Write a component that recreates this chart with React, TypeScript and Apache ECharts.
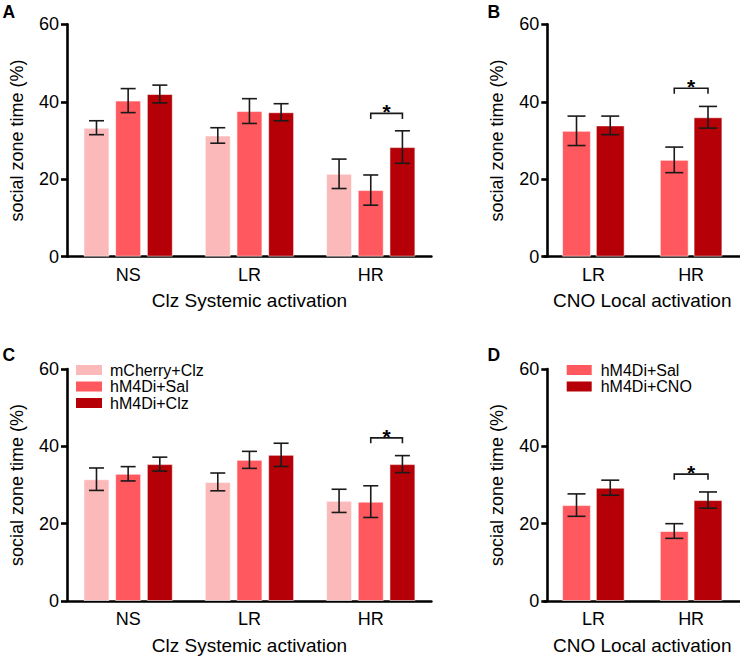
import React, { useEffect, useRef } from "react";
import * as echarts from "echarts";

const clzGroups = ["NS", "LR", "HR"];
const cnoGroups = ["LR", "HR"];
const clzNames = ["mCherry+Clz", "hM4Di+Sal", "hM4Di+Clz"];
const cnoNames = ["hM4Di+Sal", "hM4Di+CNO"];
const clzColors = ["#FCB9B9", "#FF585E", "#B40006"];
const cnoColors = ["#FF585E", "#B40006"];
const yTicks = [0, 20, 40, 60];

// Panel A: Clz systemic activation (top)
const aMCherryClz = [33.3, 31.3, 21.4];
const aMCherryClzSem = [1.8, 2.0, 3.8];
const aHM4DiSal = [40.3, 37.6, 17.2];
const aHM4DiSalSem = [3.1, 3.2, 3.9];
const aHM4DiClz = [42.0, 37.3, 28.3];
const aHM4DiClzSem = [2.3, 2.2, 4.2];
const aSig = { category: 2, from: 1, to: 2, y: 37.0, label: "*" };

// Panel B: CNO local activation (top)
const bHM4DiSal = [32.5, 25.0];
const bHM4DiSalSem = [3.8, 3.3];
const bHM4DiCNO = [33.9, 36.0];
const bHM4DiCNOSem = [2.4, 2.8];
const bSig = { category: 1, from: 0, to: 1, y: 43.5, label: "*" };

// Panel C: Clz systemic activation (bottom)
const cMCherryClz = [31.5, 30.8, 25.9];
const cMCherryClzSem = [2.9, 2.3, 3.0];
const cHM4DiSal = [32.9, 36.5, 25.7];
const cHM4DiSalSem = [1.85, 2.2, 4.1];
const cHM4DiClz = [35.4, 37.8, 35.4];
const cHM4DiClzSem = [1.8, 3.0, 2.2];
const cSig = { category: 2, from: 1, to: 2, y: 42.2, label: "*" };

// Panel D: CNO local activation (bottom)
const dHM4DiSal = [24.8, 18.1];
const dHM4DiSalSem = [2.9, 1.9];
const dHM4DiCNO = [29.3, 26.1];
const dHM4DiCNOSem = [1.95, 2.1];
const dSig = { category: 1, from: 0, to: 1, y: 32.8, label: "*" };

const FONT = "'Liberation Sans', Arial, Helvetica, sans-serif";
const INK = "#000";
const ERR = "#1a1a1a";

type Panel = {
  letter: string;
  grid: { left: number; top: number; width: number; height: number };
  yOffset: number;
  title: string;
  cats: string[];
  names: string[];
  colors: string[];
  means: number[][];
  sems: number[][];
  sig: { category: number; from: number; to: number; y: number; label: string };
  widthRatio: number;
  gapRatio: number;
  capW: number;
};

const panels: Panel[] = [
  {
    letter: "A",
    grid: { left: 53.8, top: 24.3, width: 377.6, height: 232.4 },
    yOffset: 0.5,
    title: "Clz Systemic activation",
    cats: clzGroups,
    names: clzNames,
    colors: clzColors,
    means: [aMCherryClz, aHM4DiSal, aHM4DiClz],
    sems: [aMCherryClzSem, aHM4DiSalSem, aHM4DiClzSem],
    sig: aSig,
    widthRatio: 0.214,
    gapRatio: 0.22,
    capW: 15,
  },
  {
    letter: "B",
    grid: { left: 544.5, top: 24.3, width: 196.7, height: 232.4 },
    yOffset: -2.8,
    title: "CNO Local activation",
    cats: cnoGroups,
    names: cnoNames,
    colors: cnoColors,
    means: [bHM4DiSal, bHM4DiCNO],
    sems: [bHM4DiSalSem, bHM4DiCNOSem],
    sig: bSig,
    widthRatio: 0.295,
    gapRatio: 0.17,
    capW: 18,
  },
  {
    letter: "C",
    grid: { left: 53.8, top: 369, width: 377.6, height: 232 },
    yOffset: 0.5,
    title: "Clz Systemic activation",
    cats: clzGroups,
    names: clzNames,
    colors: clzColors,
    means: [cMCherryClz, cHM4DiSal, cHM4DiClz],
    sems: [cMCherryClzSem, cHM4DiSalSem, cHM4DiClzSem],
    sig: cSig,
    widthRatio: 0.214,
    gapRatio: 0.22,
    capW: 15,
  },
  {
    letter: "D",
    grid: { left: 544.5, top: 369, width: 196.7, height: 232 },
    yOffset: -2.8,
    title: "CNO Local activation",
    cats: cnoGroups,
    names: cnoNames,
    colors: cnoColors,
    means: [dHM4DiSal, dHM4DiCNO],
    sems: [dHM4DiSalSem, dHM4DiCNOSem],
    sig: dSig,
    widthRatio: 0.295,
    gapRatio: 0.17,
    capW: 18,
  },
];

function buildOption() {
  const grids: any[] = [];
  const xAxes: any[] = [];
  const yAxes: any[] = [];
  const series: any[] = [];
  const graphics: any[] = [];

  panels.forEach((p, gi) => {
    grids.push({ ...p.grid, containLabel: false });
    xAxes.push({
      type: "category",
      gridIndex: gi,
      data: p.cats,
      name: p.title,
      nameLocation: "middle",
      nameGap: 34.5,
      nameTextStyle: { fontSize: 19, color: INK, fontFamily: FONT },
      axisLine: { lineStyle: { color: INK, width: 2.6 } },
      axisTick: { alignWithLabel: true, length: 6, lineStyle: { color: INK, width: 2.6 } },
      axisLabel: { fontSize: 18, color: INK, fontFamily: FONT, margin: 9, interval: 0 },
      splitLine: { show: false },
    });
    yAxes.push({
      type: "value",
      gridIndex: gi,
      min: yTicks[0],
      max: yTicks[yTicks.length - 1],
      interval: yTicks[1] - yTicks[0],
      offset: p.yOffset,
      name: "social zone time (%)",
      nameLocation: "middle",
      nameGap: 41,
      nameTextStyle: { fontSize: 18, color: INK, fontFamily: FONT },
      axisLine: { show: true, lineStyle: { color: INK, width: 2.6 } },
      axisTick: { show: true, length: 6, lineStyle: { color: INK, width: 2.6 } },
      axisLabel: { fontSize: 18, color: INK, fontFamily: FONT, margin: 8 },
      splitLine: { show: false },
    });

    const n = p.names.length;
    p.names.forEach((name, k) => {
      series.push({
        type: "bar",
        name,
        xAxisIndex: gi,
        yAxisIndex: gi,
        data: p.means[k],
        barWidth: (p.widthRatio * 100).toFixed(2) + "%",
        barGap: (p.gapRatio * 100).toFixed(1) + "%",
        itemStyle: { color: p.colors[k], borderColor: "rgba(255,255,255,0.55)", borderWidth: 1 },
        z: 2,
      });
    });
    p.names.forEach((name, k) => {
      series.push({
        type: "custom",
        name: name + " SEM",
        xAxisIndex: gi,
        yAxisIndex: gi,
        z: 5,
        silent: true,
        data: p.means[k].map((m, i) => [i, m, p.sems[k][i]]),
        encode: { x: 0, y: 1 },
        renderItem: (params: any, api: any) => {
          const ci = api.value(0);
          const m = api.value(1);
          const s = api.value(2);
          const catW = api.size([1, 0])[0];
          const bw = catW * p.widthRatio;
          const step = bw * (1 + p.gapRatio);
          const cx = api.coord([ci, m])[0] + (k - (n - 1) / 2) * step;
          const yTop = api.coord([ci, m + s])[1];
          const yBot = api.coord([ci, m - s])[1];
          const half = p.capW / 2;
          const st = { stroke: ERR, lineWidth: 1.6 };
          return {
            type: "group",
            children: [
              { type: "line", shape: { x1: cx, y1: yTop, x2: cx, y2: yBot }, style: st },
              { type: "line", shape: { x1: cx - half, y1: yTop, x2: cx + half, y2: yTop }, style: st },
              { type: "line", shape: { x1: cx - half, y1: yBot, x2: cx + half, y2: yBot }, style: st },
            ],
          };
        },
      });
    });
    // significance bracket
    series.push({
      type: "custom",
      name: "sig " + p.letter,
      xAxisIndex: gi,
      yAxisIndex: gi,
      z: 6,
      silent: true,
      data: [[p.sig.category, p.sig.y, p.sig.from, p.sig.to]],
      encode: { x: 0, y: 1 },
      renderItem: (params: any, api: any) => {
        const ci = api.value(0);
        const yv = api.value(1);
        const f = api.value(2);
        const t = api.value(3);
        const catW = api.size([1, 0])[0];
        const bw = catW * p.widthRatio;
        const step = bw * (1 + p.gapRatio);
        const c = api.coord([ci, yv]);
        const x1 = c[0] + (f - (n - 1) / 2) * step;
        const x2 = c[0] + (t - (n - 1) / 2) * step;
        const y = c[1];
        const st = { stroke: ERR, lineWidth: 1.6, fill: "none" };
        return {
          type: "group",
          children: [
            { type: "polyline", shape: { points: [[x1, y + 5.5], [x1, y], [x2, y], [x2, y + 5.5]] }, style: st },
            {
              type: "text",
              style: {
                x: (x1 + x2) / 2,
                y: y - 1.5,
                text: p.sig.label,
                fontSize: 21,
                fontWeight: "bold",
                fontFamily: FONT,
                fill: INK,
                align: "center",
                verticalAlign: "middle",
              },
            },
          ],
        };
      },
    });

    graphics.push({
      type: "text",
      left: gi % 2 === 0 ? 2.5 : 487.5,
      top: gi < 2 ? 2.5 : 345.5,
      style: { text: p.letter, fontSize: 17.5, fontWeight: "bold", fontFamily: FONT, fill: INK },
    });
  });

  const legends = [
    {
      data: clzNames,
      orient: "vertical",
      left: 71,
      top: 357,
      icon: "rect",
      itemWidth: 26,
      itemHeight: 10,
      itemGap: 0.5,
      selectedMode: false,
      itemStyle: { borderWidth: 0 },
      textStyle: { fontSize: 16, lineHeight: 16, color: INK, fontFamily: FONT, padding: [0, 0, 0, 3] },
    },
    {
      data: cnoNames,
      orient: "vertical",
      left: 561.7,
      top: 357,
      icon: "rect",
      itemWidth: 25,
      itemHeight: 10,
      itemGap: 0.5,
      selectedMode: false,
      itemStyle: { borderWidth: 0 },
      textStyle: { fontSize: 16, lineHeight: 16, color: INK, fontFamily: FONT, padding: [0, 0, 0, 4] },
    },
  ];

  return {
    animation: false,
    backgroundColor: "#fff",
    textStyle: { fontFamily: FONT },
    grid: grids,
    xAxis: xAxes,
    yAxis: yAxes,
    legend: legends,
    series,
    graphic: graphics,
  };
}

export default function App() {
  const ref = useRef<HTMLDivElement>(null);
  useEffect(() => {
    if (!ref.current) return;
    const chart = echarts.init(ref.current, undefined, { renderer: "svg" });
    chart.setOption(buildOption() as any);
    return () => chart.dispose();
  }, []);
  return (
    <div
      ref={ref}
      style={{ position: "fixed", left: 0, top: 0, width: 740, height: 658, background: "#fff" }}
    />
  );
}
